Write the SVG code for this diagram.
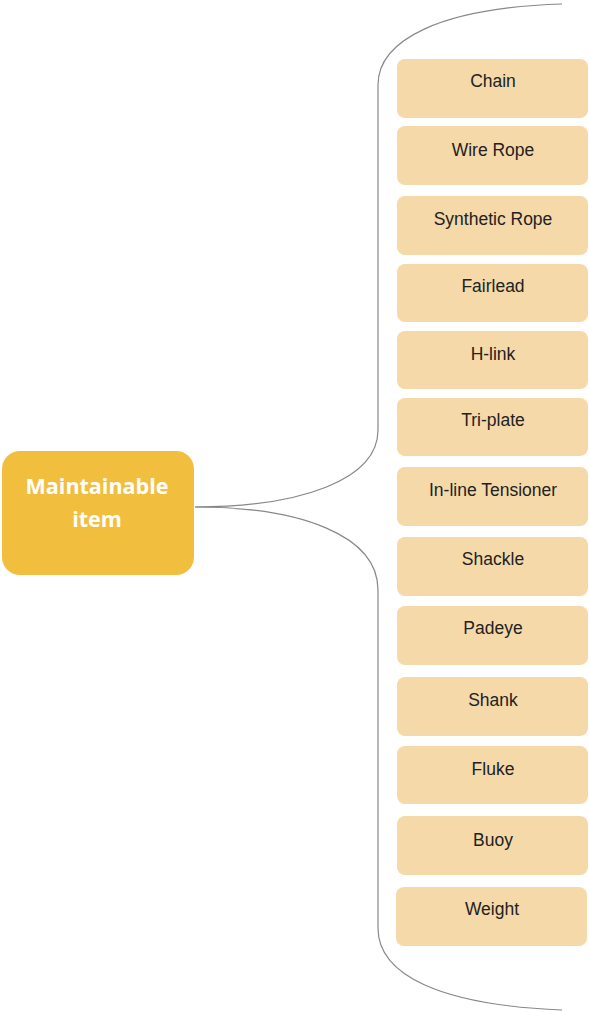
<svg xmlns="http://www.w3.org/2000/svg" width="589" height="1012" viewBox="0 0 589 1012">
<style>
.b{fill:#F5D9A9;}
.t{font-family:"Liberation Sans",Arial,sans-serif;font-size:17.5px;fill:#222;text-anchor:middle;}
.m{font-family:"Open Sans","Liberation Sans",sans-serif;font-size:21.5px;font-weight:bold;fill:#fff;text-anchor:middle;}
.c{fill:none;stroke:#888;stroke-width:1.2;}
</style>
<rect width="589" height="1012" fill="#fff"/>
<g id="connectors">
<path class="c" d="M562,4 C440,8 378,40 378,85 L378,430 C378,480 300,507 195,507"/>
<path class="c" d="M195,507 C300,507 378,535 378,590 L378,928 C378,975 440,1005 562,1010"/>
</g>
<g id="main">
<rect x="2" y="451" width="192" height="124" rx="18" fill="#F2BE3E"/>
<text class="m" x="97" y="494">Maintainable</text>
<text class="m" x="97" y="527">item</text>
</g>
<g id="chain"><rect class="b" x="397" y="59" width="191" height="59" rx="8"/><text class="t" x="493" y="87">Chain</text></g>
<g id="wire-rope"><rect class="b" x="397" y="126" width="191" height="59" rx="8"/><text class="t" x="493" y="156">Wire Rope</text></g>
<g id="synthetic-rope"><rect class="b" x="397" y="196" width="191" height="59" rx="8"/><text class="t" x="493" y="225">Synthetic Rope</text></g>
<g id="fairlead"><rect class="b" x="397" y="264" width="191" height="58" rx="8"/><text class="t" x="493" y="292">Fairlead</text></g>
<g id="h-link"><rect class="b" x="397" y="331" width="191" height="58" rx="8"/><text class="t" x="493" y="360">H-link</text></g>
<g id="tri-plate"><rect class="b" x="397" y="398" width="191" height="58" rx="8"/><text class="t" x="493" y="426">Tri-plate</text></g>
<g id="in-line-tensioner"><rect class="b" x="397" y="467" width="191" height="59" rx="8"/><text class="t" x="493" y="496">In-line Tensioner</text></g>
<g id="shackle"><rect class="b" x="397" y="537" width="191" height="59" rx="8"/><text class="t" x="493" y="565">Shackle</text></g>
<g id="padeye"><rect class="b" x="397" y="606" width="191" height="59" rx="8"/><text class="t" x="493" y="634">Padeye</text></g>
<g id="shank"><rect class="b" x="397" y="677" width="191" height="59" rx="8"/><text class="t" x="493" y="706">Shank</text></g>
<g id="fluke"><rect class="b" x="397" y="746" width="191" height="58" rx="8"/><text class="t" x="493" y="775">Fluke</text></g>
<g id="buoy"><rect class="b" x="397" y="816" width="191" height="59" rx="8"/><text class="t" x="493" y="846">Buoy</text></g>
<g id="weight"><rect class="b" x="396" y="887" width="191" height="59" rx="8"/><text class="t" x="492" y="915">Weight</text></g>
</svg>
